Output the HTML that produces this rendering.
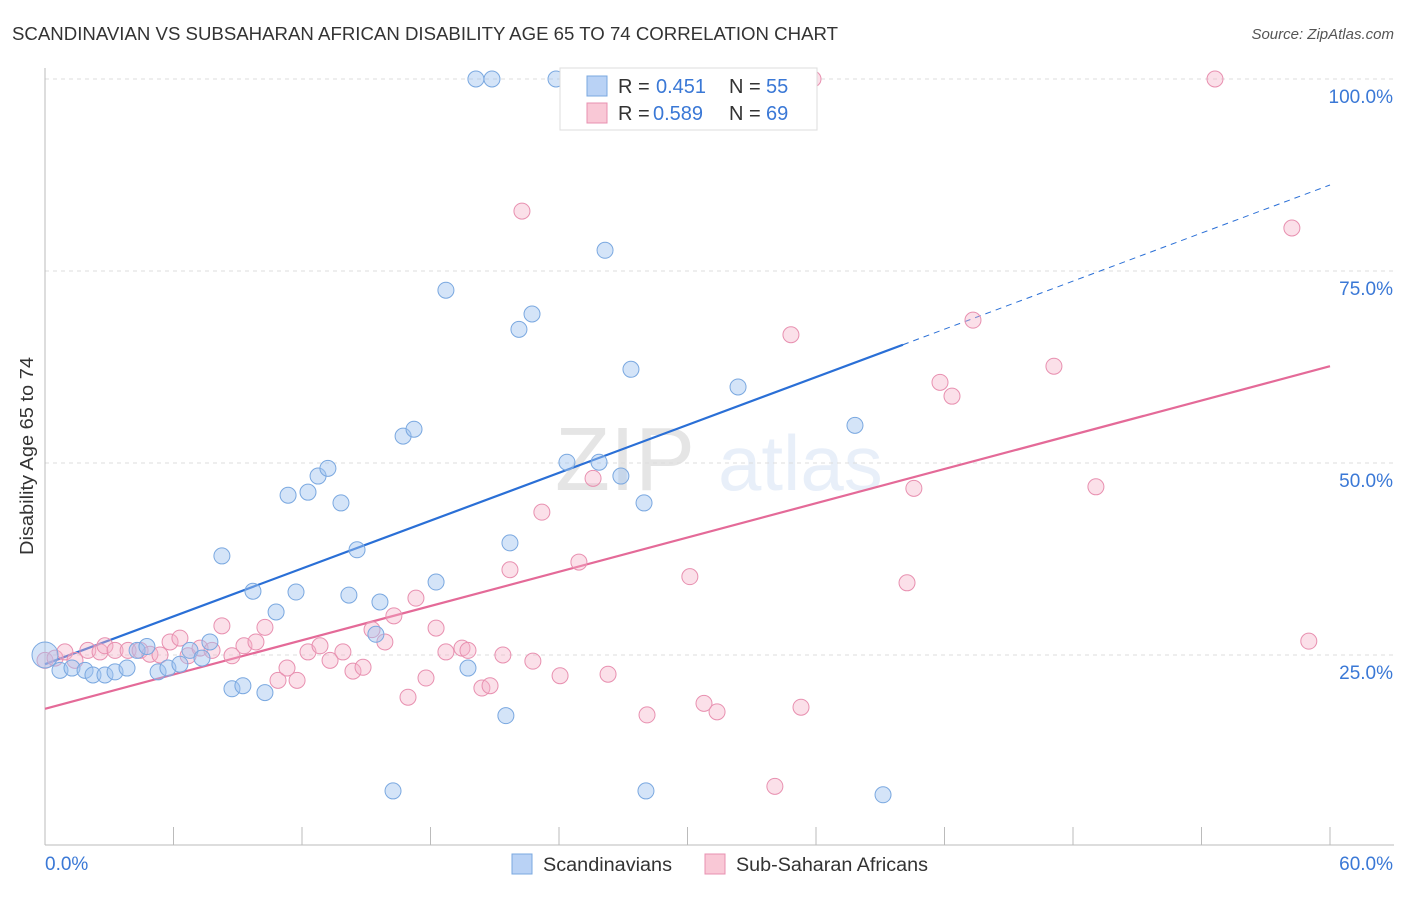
<!DOCTYPE html>
<html><head><meta charset="utf-8"><style>
body{margin:0;background:#fff;font-family:"Liberation Sans",sans-serif}
svg text{font-family:"Liberation Sans",sans-serif}
</style></head><body>
<svg id="c" width="1406" height="892" xmlns="http://www.w3.org/2000/svg">
<text x="12" y="40" font-size="18" fill="#333" textLength="826" lengthAdjust="spacingAndGlyphs">SCANDINAVIAN VS SUBSAHARAN AFRICAN DISABILITY AGE 65 TO 74 CORRELATION CHART</text>
<text x="1394" y="39" font-size="15" fill="#555" text-anchor="end" font-style="italic">Source: ZipAtlas.com</text>
<text transform="translate(33,555) rotate(-90)" font-size="18" fill="#333" textLength="198" lengthAdjust="spacingAndGlyphs">Disability Age 65 to 74</text>
<g opacity="0.12"><text x="555" y="490" font-size="90" font-family="Liberation Serif" fill="#333">ZIP</text><text x="718" y="490" font-size="78" fill="#4a7fd0">atlas</text></g>
<g id="grid"></g><g id="axes"></g><g id="lines"></g><g id="pts"></g>
<g>
<rect x="560" y="68" width="257" height="62" fill="#fff" stroke="#ddd"/>
<rect x="587" y="76" width="20" height="20" fill="#b9d2f5" stroke="#7aa8e0"/>
<text x="618" y="93" font-size="20" fill="#333">R =</text>
<text x="656" y="93" font-size="20" fill="#3a78d6">0.451</text>
<text x="729" y="93" font-size="20" fill="#333">N =</text>
<text x="766" y="93" font-size="20" fill="#3a78d6">55</text>
<rect x="587" y="103" width="20" height="20" fill="#f9c8d6" stroke="#e890b0"/>
<text x="618" y="120" font-size="20" fill="#333">R =</text>
<text x="653" y="120" font-size="20" fill="#3a78d6">0.589</text>
<text x="729" y="120" font-size="20" fill="#333">N =</text>
<text x="766" y="120" font-size="20" fill="#3a78d6">69</text>
</g>
<g>
<rect x="512" y="854" width="20" height="20" fill="#b9d2f5" stroke="#7aa8e0"/>
<text x="543" y="871" font-size="19" fill="#333" textLength="129" lengthAdjust="spacingAndGlyphs">Scandinavians</text>
<rect x="705" y="854" width="20" height="20" fill="#f9c8d6" stroke="#e890b0"/>
<text x="736" y="871" font-size="19" fill="#333" textLength="192" lengthAdjust="spacingAndGlyphs">Sub-Saharan Africans</text>
</g>
</svg>
<script>
const blueX=[0,0.7,1.26,1.87,2.24,2.8,3.27,3.83,4.3,4.76,5.28,5.74,6.3,6.77,7.33,7.7,8.26,8.73,9.24,9.71,10.27,10.79,11.35,11.72,12.28,12.75,13.21,13.82,14.19,14.57,15.45,15.64,16.25,16.72,17.23,18.26,18.72,19.75,20.12,20.87,21.52,21.71,22.13,22.74,23.86,24.37,25.87,26.15,26.89,27.36,27.97,28.06,32.36,37.82,39.13];
const blueY=[25.0,23.0,23.3,23.0,22.4,22.4,22.8,23.3,25.6,26.1,22.8,23.3,23.8,25.6,24.6,26.7,37.9,20.6,21.0,33.3,20.1,30.6,45.8,33.2,46.2,48.3,49.3,44.8,32.8,38.7,27.7,31.9,7.3,53.5,54.4,34.5,72.5,23.3,100,100,17.1,39.6,67.4,69.4,100,50.1,50.1,77.7,48.3,62.2,44.8,7.3,59.9,54.9,6.8];
const pinkX=[0,0.47,0.93,1.4,2.0,2.57,2.8,3.27,3.88,4.44,4.9,5.37,5.84,6.3,6.68,7.24,7.8,8.26,8.73,9.29,9.85,10.27,10.88,11.3,11.77,12.28,12.84,13.31,13.91,14.38,14.85,15.27,15.87,16.29,16.95,17.32,17.79,18.26,18.72,19.47,19.75,20.4,20.78,21.38,21.71,22.27,22.78,23.2,24.05,24.93,25.59,26.29,28.11,30.11,30.77,31.38,34.08,34.83,35.3,40.25,40.57,41.79,42.35,43.33,47.11,49.07,54.63,58.22,59.01,35.86];
const pinkY=[24.3,24.6,25.4,24.3,25.6,25.4,26.2,25.6,25.6,25.6,25.1,25.0,26.7,27.2,24.9,25.9,25.6,28.8,24.9,26.2,26.7,28.6,21.7,23.3,21.7,25.4,26.2,24.3,25.4,22.9,23.4,28.3,26.7,30.1,19.5,32.4,22.0,28.5,25.4,25.9,25.6,20.7,21.0,25.0,36.1,82.8,24.2,43.6,22.3,37.1,48.0,22.5,17.2,35.2,18.7,17.6,7.9,66.7,18.2,34.4,46.7,60.5,58.7,68.6,62.6,46.9,100,80.6,26.8,100];
const yTicks=[25,50,75,100];
const yTickLabels=["25.0%","50.0%","75.0%","100.0%"];
const blueLine=[[0,23.8],[40.06,65.4],[60,86.2]];
const pinkLine=[[0,18.0],[60,62.6]];
const X=v=>45+v/60*1285, Y=v=>847-v/100*768;
const NS="http://www.w3.org/2000/svg";
function mk(p,t,a){const e=document.createElementNS(NS,t);for(const k in a)e.setAttribute(k,a[k]);document.getElementById(p).appendChild(e);return e;}
yTicks.forEach((t,i)=>{
 const g=mk('grid','line',{x1:45,x2:1394,y1:Y(t),y2:Y(t),stroke:'#ddd','stroke-dasharray':'4,4'});
 
 
 const l=mk('grid','text',{x:1393,y:Y(t)+24,'font-size':19,fill:'#3a78d6','text-anchor':'end'});
 l.textContent=yTickLabels[i];
 
 
});
let ax=mk('axes','line',{x1:45,x2:45,y1:68,y2:845,stroke:'#bbb'});


ax=mk('axes','line',{x1:45,x2:1394,y1:845,y2:845,stroke:'#bbb'});


for(let i=0;i<=10;i++){const t=mk('axes','line',{x1:X(i*6),x2:X(i*6),y1:827,y2:845,stroke:'#bbb'});
 
 }
let xl=mk('axes','text',{x:45,y:870,'font-size':19,fill:'#3a78d6'});xl.textContent='0.0%';


xl=mk('axes','text',{x:1393,y:870,'font-size':19,fill:'#3a78d6','text-anchor':'end'});xl.textContent='60.0%';


let ln=mk('lines','line',{x1:X(blueLine[0][0]),y1:Y(blueLine[0][1]),x2:X(blueLine[1][0]),y2:Y(blueLine[1][1]),stroke:'#2a6fd6','stroke-width':2.2});


ln=mk('lines','line',{x1:X(blueLine[1][0]),y1:Y(blueLine[1][1]),x2:X(blueLine[2][0]),y2:Y(blueLine[2][1]),stroke:'#2a6fd6','stroke-width':1,'stroke-dasharray':'6,5'});


ln=mk('lines','line',{x1:X(pinkLine[0][0]),y1:Y(pinkLine[0][1]),x2:X(pinkLine[1][0]),y2:Y(pinkLine[1][1]),stroke:'#e46a98','stroke-width':2.2});


pinkX.forEach((x,i)=>{const c=mk('pts','circle',{cx:X(x),cy:Y(pinkY[i]),r:8,fill:'rgba(246,178,200,0.4)',stroke:'#e890b0','stroke-width':1});
 
 });
blueX.forEach((x,i)=>{const c=mk('pts','circle',{cx:X(x),cy:Y(blueY[i]),r:i==0?13:8,fill:'rgba(160,195,240,0.45)',stroke:'#7aa8e0','stroke-width':1});
 
 });
</script>
</body></html>
